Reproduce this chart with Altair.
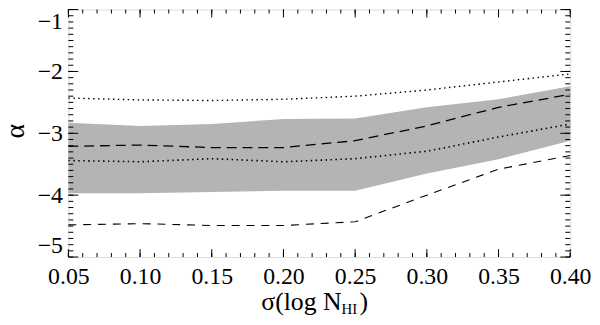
import altair as alt
import pandas as pd
import numpy as np

# ---- data ----
sigma = [0.05, 0.10, 0.15, 0.20, 0.25, 0.30, 0.35, 0.40]
band_upper = [-2.83, -2.88, -2.85, -2.77, -2.76, -2.58, -2.45, -2.24]
band_lower = [-3.97, -3.97, -3.95, -3.93, -3.93, -3.65, -3.42, -3.12]
dotted_upper = [-2.43, -2.46, -2.47, -2.45, -2.40, -2.30, -2.17, -2.04]
dotted_lower = [-3.44, -3.46, -3.41, -3.46, -3.41, -3.29, -3.06, -2.85]
dashed_upper = [-3.21, -3.19, -3.23, -3.23, -3.12, -2.88, -2.58, -2.37]
dashed_lower = [-4.48, -4.46, -4.49, -4.49, -4.43, -4.00, -3.58, -3.36]

x_major = [0.05, 0.10, 0.15, 0.20, 0.25, 0.30, 0.35, 0.40]
y_major = [-5, -4, -3, -2, -1]
x_minor = [round(v, 2) for v in np.arange(0.05, 0.4001, 0.01)]
y_minor = [round(v, 1) for v in np.arange(-5.0, -0.999, 0.1)]

W, H = 507, 250
FONT = "Liberation Serif"

df = pd.DataFrame({
    "sigma": sigma,
    "band_upper": band_upper,
    "band_lower": band_lower,
    "dotted_upper": dotted_upper,
    "dotted_lower": dotted_lower,
    "dashed_upper": dashed_upper,
    "dashed_lower": dashed_lower,
})

xs = alt.Scale(domain=[0.05, 0.40], nice=False, zero=False)
ys = alt.Scale(domain=[-5, -1], nice=False, zero=False)


def ax_x():
    return alt.Axis(values=x_major, format=".2f", labelFont=FONT, labelFontSize=24,
                    labelColor="black", ticks=False, domain=False, grid=False,
                    title=None, labelPadding=8, labelFlush=False)


def ax_y():
    return alt.Axis(values=y_major, format="d", labelFont=FONT, labelFontSize=24,
                    labelColor="black", ticks=False, domain=False, grid=False,
                    title=None, labelPadding=6, labelFlush=True)


base = alt.Chart(df)

band = base.mark_area(color="#b4b4b4", opacity=1).encode(
    x=alt.X("sigma:Q", scale=xs, axis=ax_x()),
    y=alt.Y("band_lower:Q", scale=ys, axis=ax_y()),
    y2="band_upper:Q",
)


def line(field, dash, width):
    return base.mark_line(color="black", strokeDash=dash, strokeWidth=width).encode(
        x=alt.X("sigma:Q", scale=xs, axis=ax_x()),
        y=alt.Y(f"{field}:Q", scale=ys, axis=ax_y()),
    )


lines = [
    line("dotted_upper", [1.5, 3.5], 1.4),
    line("dotted_lower", [1.5, 3.5], 1.6),
    line("dashed_upper", [10, 6], 1.3),
    line("dashed_lower", [8, 7], 1.1),
]


def xticks(vals, y0, y1):
    return alt.Chart(pd.DataFrame({"xt": vals})).mark_rule(color="black", strokeWidth=1).encode(
        x=alt.X("xt:Q", scale=xs, axis=ax_x()),
        y=alt.value(y0), y2=alt.value(y1),
    )


def yticks(vals, x0, x1):
    return alt.Chart(pd.DataFrame({"yt": vals})).mark_rule(color="black", strokeWidth=1).encode(
        y=alt.Y("yt:Q", scale=ys, axis=ax_y()),
        x=alt.value(x0), x2=alt.value(x1),
    )


ticks = [
    xticks(x_major, H, H - 8), xticks(x_minor, H, H - 4),
    xticks(x_major, 0, 8), xticks(x_minor, 0, 4),
    yticks(y_major, 0, 10), yticks(y_minor, 0, 5),
    yticks(y_major, W, W - 10), yticks(y_minor, W, W - 5),
]


def label(txt, x, y, size, align="left", angle=0, baseline="alphabetic"):
    return alt.Chart(pd.DataFrame({"t": [txt]})).mark_text(
        font=FONT, fontSize=size, color="black", align=align, baseline=baseline, angle=angle
    ).encode(text="t:N", x=alt.value(x), y=alt.value(y))


titles = [
    label("σ(log N", 276, 304, 26, align="right"),
    label("HI", 276, 308, 15, align="left"),
    label(")", 294, 304, 26, align="left"),
    label("α", -53, 123, 28, align="center", angle=270, baseline="middle"),
]

chart = alt.layer(band, *lines, *ticks, *titles).properties(
    width=W, height=H,
    autosize=alt.AutoSizeParams(type="none"),
    padding={"left": 61, "top": 0, "right": 22, "bottom": 60},
).configure_view(
    stroke="black", strokeWidth=1.2
).configure_axis(
    labelFont=FONT, labelFontSize=24, labelColor="black"
).configure(font=FONT)

chart.save("out.html", embed_options={"renderer": "svg", "actions": False})
